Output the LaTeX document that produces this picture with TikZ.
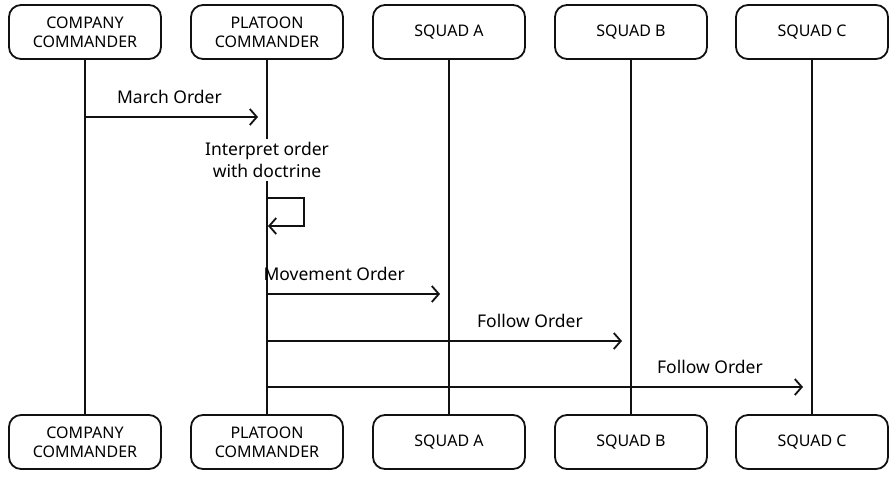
\documentclass[tikz,border=0pt]{standalone}
\usepackage{fontspec}
\setmainfont{Noto Sans}
\usetikzlibrary{arrows.meta,positioning}
\definecolor{ink}{HTML}{111111}
\tikzset{
  actor/.style   ={draw=ink, fill=white, line width=1.8pt, rounded corners=12pt,
                   minimum width=152pt, minimum height=54pt, inner sep=2pt,
                   align=center, font=\fontsize{16}{19}\selectfont},
  lifeline/.style={draw=ink, line width=1.8pt},
  msgarr/.style  ={-{Straight Barb[length=7pt,width=16pt,line width=1.8pt]}, line width=1.8pt, color=ink},
  msglbl/.style  ={anchor=base east, inner sep=0pt, font=\fontsize{17.5}{21}\selectfont},
}
\begin{document}
\begin{tikzpicture}[x=1pt,y=-1pt]
  \useasboundingbox[fill=white] (0,0) rectangle (894,477);
  % participants, top row
  \node[actor] (cotop) at (85,32)  {COMPANY\\COMMANDER};
  \node[actor] (pltop) at (267,32) {PLATOON\\COMMANDER};
  \node[actor] (satop) at (449,32) {SQUAD A};
  \node[actor] (sbtop) at (631,32) {SQUAD B};
  \node[actor] (sctop) at (812,32) {SQUAD C};
  % participants, bottom row
  \node[actor] (cobot) at (85,442)  {COMPANY\\COMMANDER};
  \node[actor] (plbot) at (267,442) {PLATOON\\COMMANDER};
  \node[actor] (sabot) at (449,442) {SQUAD A};
  \node[actor] (sbbot) at (631,442) {SQUAD B};
  \node[actor] (scbot) at (812,442) {SQUAD C};
  % lifelines
  \foreach \p in {co,pl,sa,sb,sc}
    \draw[lifeline] (\p top.south) -- (\p bot.north);
  % note on platoon lifeline
  \node[fill=white, align=center, inner sep=3pt, font=\fontsize{17.5}{22}\selectfont]
    (interp) at (267,160) {Interpret order\\with doctrine};
  % message points
  \coordinate (m1s) at (85,117);  \coordinate (m1e) at (258,117);
  \coordinate (m2s) at (267,294); \coordinate (m2e) at (440,294);
  \coordinate (m3s) at (267,341); \coordinate (m3e) at (622,341);
  \coordinate (m4s) at (267,387); \coordinate (m4e) at (803,387);
  \coordinate (lp1) at (267,198); \coordinate (lp2) at (304,198);
  \coordinate (lp3) at (304,226); \coordinate (lp4) at (268,226);
  % messages
  \draw[msgarr] (m1s) -- (m1e);
  \node[msglbl] (m1lbl) at ([xshift=-36pt,yshift=14pt]m1e) {March Order};
  \draw[msgarr] (lp1) -- (lp2) -- (lp3) -- (lp4);
  \draw[msgarr] (m2s) -- (m2e);
  \node[msglbl] (m2lbl) at ([xshift=-35pt,yshift=14pt]m2e) {Movement Order};
  \draw[msgarr] (m3s) -- (m3e);
  \node[msglbl] (m3lbl) at ([xshift=-39pt,yshift=14pt]m3e) {Follow Order};
  \draw[msgarr] (m4s) -- (m4e);
  \node[msglbl] (m4lbl) at ([xshift=-40pt,yshift=14pt]m4e) {Follow Order};
\end{tikzpicture}
\end{document}
